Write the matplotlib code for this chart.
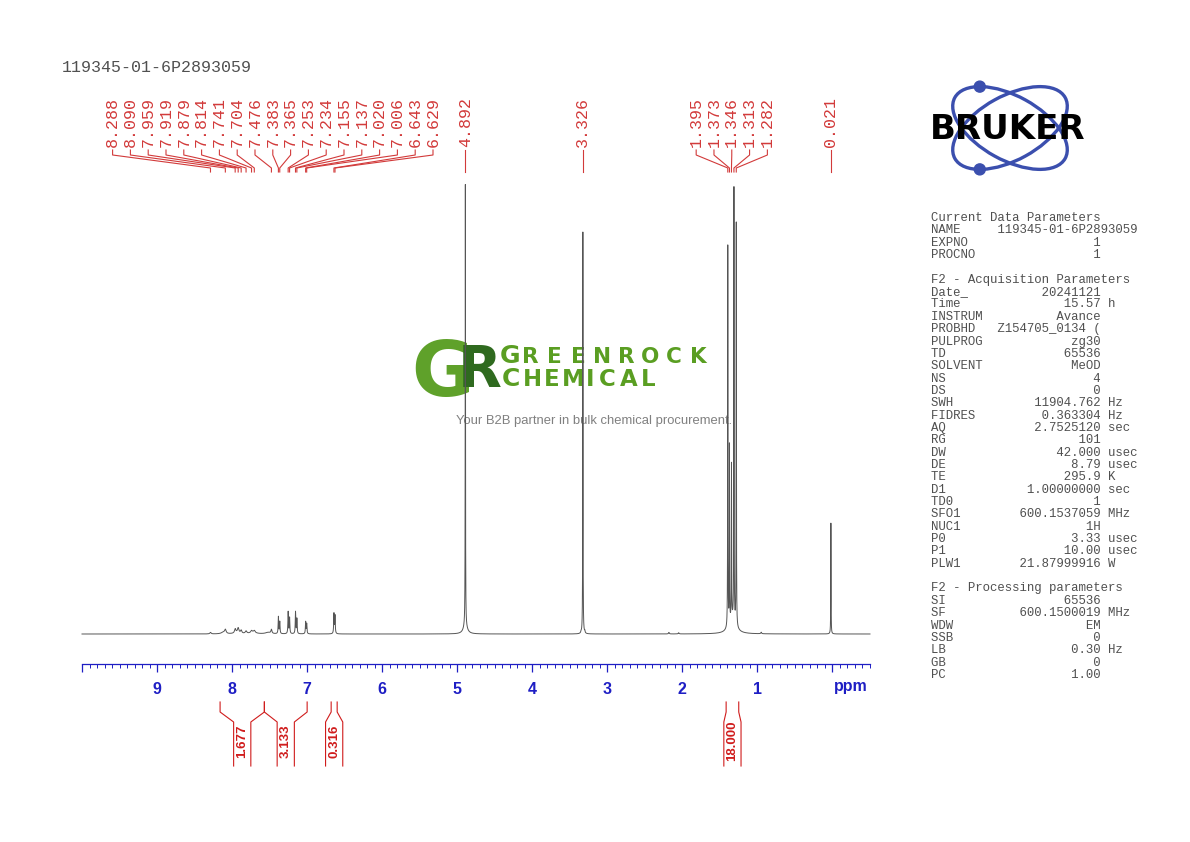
import numpy as np
import matplotlib.pyplot as plt
from matplotlib.patches import Ellipse, Circle
from matplotlib.transforms import blended_transform_factory

W, H = 1190, 842

# peaks: shift (ppm), height (px above baseline), half width (ppm)
shift = [8.288, 8.090, 7.959, 7.919, 7.879, 7.814, 7.741, 7.704, 7.476,
         7.383, 7.365, 7.253, 7.234, 7.155, 7.137, 7.020, 7.006, 6.643, 6.629,
         8.12, 7.93, 7.72, 7.52,
         4.892, 4.892, 3.326, 3.30, 3.35, 2.18, 2.05,
         1.395, 1.373, 1.346, 1.313, 1.282, 1.335, 0.95, 0.021]
height = [1.5, 4, 4, 4.5, 3, 2.5, 2, 2, 4,
          17, 12, 22, 16, 22, 15, 12, 10, 20, 18,
          1.5, 1.5, 1.5, 1.5,
          443, 8, 402, 2, 1.5, 1.5, 1.2,
          381, 177, 154, 434, 404, 15, 1.5, 111]
hwhm = [0.01, 0.012, 0.01, 0.01, 0.01, 0.012, 0.012, 0.012, 0.008,
        0.004, 0.004, 0.004, 0.004, 0.004, 0.004, 0.004, 0.004, 0.004, 0.004,
        0.03, 0.04, 0.05, 0.04,
        0.002, 0.03, 0.002, 0.004, 0.004, 0.006, 0.006,
        0.002, 0.002, 0.002, 0.002, 0.002, 0.05, 0.006, 0.002]

# peak picking labels, grouped the way they are drawn
label_groups = [
    [8.288, 8.090, 7.959, 7.919, 7.879, 7.814, 7.741, 7.704, 7.476, 7.383,
     7.365, 7.253, 7.234, 7.155, 7.137, 7.020, 7.006, 6.643, 6.629],
    [4.892],
    [3.326],
    [1.395, 1.373, 1.346, 1.313, 1.282],
    [0.021],
]

# integrals
int_from = [8.16, 7.57, 6.68, 1.417]
int_to = [7.57, 7.00, 6.60, 1.249]
int_value = ["1.677", "3.133", "0.316", "18.000"]

major_ticks = list(range(0, 11))
major_labels = ["", "1", "2", "3", "4", "5", "6", "7", "8", "9", ""]

title = "119345-01-6P2893059"

param_rows = [
    ("Current Data Parameters", None, None),
    ("NAME", "119345-01-6P2893059", ""),
    ("EXPNO", "1", ""),
    ("PROCNO", "1", ""),
    None,
    ("F2 - Acquisition Parameters", None, None),
    ("Date_", "20241121", ""),
    ("Time", "15.57", "h"),
    ("INSTRUM", "Avance", ""),
    ("PROBHD", "Z154705_0134 (", ""),
    ("PULPROG", "zg30", ""),
    ("TD", "65536", ""),
    ("SOLVENT", "MeOD", ""),
    ("NS", "4", ""),
    ("DS", "0", ""),
    ("SWH", "11904.762", "Hz"),
    ("FIDRES", "0.363304", "Hz"),
    ("AQ", "2.7525120", "sec"),
    ("RG", "101", ""),
    ("DW", "42.000", "usec"),
    ("DE", "8.79", "usec"),
    ("TE", "295.9", "K"),
    ("D1", "1.00000000", "sec"),
    ("TD0", "1", ""),
    ("SFO1", "600.1537059", "MHz"),
    ("NUC1", "1H", ""),
    ("P0", "3.33", "usec"),
    ("P1", "10.00", "usec"),
    ("PLW1", "21.87999916", "W"),
    None,
    ("F2 - Processing parameters", None, None),
    ("SI", "65536", ""),
    ("SF", "600.1500019", "MHz"),
    ("WDW", "EM", ""),
    ("SSB", "0", ""),
    ("LB", "0.30", "Hz"),
    ("GB", "0", ""),
    ("PC", "1.00", ""),
]

RED = "#d23a3a"
RED2 = "#d01c1c"
BLUE = "#1e1ec4"
GREY = "#505050"
GREEN = "#5a9e22"

fig = plt.figure(figsize=(W / 100, H / 100), dpi=100, facecolor="white")

# overlay in pixel coords (y down) for text, labels and watermark
ov = fig.add_axes([0, 0, 1, 1], zorder=0)
ov.set_autoscale_on(False)
ov.set_xlim(0, W)
ov.set_ylim(H, 0)
ov.axis("off")

# spectrum axes
ax = fig.add_axes([82 / W, (H - 664) / H, (870 - 82) / W, (664 - 183) / H], zorder=1)
ax.patch.set_alpha(0)
ax.set_xlim(10.0, -0.5)
ax.set_ylim(-30, 451)

ppm = np.linspace(10.0, -0.5, 40000)
y = np.zeros_like(ppm)
for c, h, w in zip(shift, height, hwhm):
    y += h * w ** 2 / ((ppm - c) ** 2 + w ** 2)
ax.plot(ppm, y, color="#555555", lw=0.7, clip_on=False)

for s in ["left", "right", "top"]:
    ax.spines[s].set_visible(False)
ax.spines["bottom"].set_color(BLUE)
ax.spines["bottom"].set_linewidth(0.9)
ax.set_yticks([])
ax.set_xticks(major_ticks)
ax.set_xticklabels(major_labels)
ax.set_xticks(np.arange(-0.5, 10.01, 0.1), minor=True)
ax.tick_params(axis="x", which="major", direction="out", length=6, width=0.9,
               color=BLUE, pad=7, labelsize=11.5, labelcolor=BLUE)
ax.tick_params(axis="x", which="minor", direction="out", length=3, width=0.7, color=BLUE)
for t in ax.get_xticklabels():
    t.set_fontweight("bold")
    t.set_family("Liberation Sans")

bt = blended_transform_factory(ax.transData, ov.transData)

ov.text(-0.25, 691, "ppm", transform=bt, ha="center", va="baseline", color=BLUE,
        fontsize=11.5, fontweight="bold", family="Liberation Sans")

# peak labels
step = 17.8 * 10.5 / 788
for g in label_groups:
    n = len(g)
    xs = np.mean(g) + step * ((n - 1) / 2 - np.arange(n))
    for p, xl in zip(g, xs):
        ov.plot([xl, xl, p, p], [150, 155, 168, 172], transform=bt, color=RED,
                lw=0.8, clip_on=False)
        ov.text(xl, 147, f"{p:.3f}", transform=bt, rotation=90, ha="center",
                va="bottom", family="Liberation Mono", fontsize=12, color=RED)

# integrals
half = 8.6 * 10.5 / 788
for a, b, v in zip(int_from, int_to, int_value):
    mid = (a + b) / 2
    ov.plot([a, a, mid + half, mid + half], [702, 712, 722, 766], transform=bt,
            color=RED2, lw=0.8, clip_on=False)
    ov.plot([b, b, mid - half, mid - half], [702, 712, 722, 766], transform=bt,
            color=RED2, lw=0.8, clip_on=False)
    ov.text(mid, 741, v, transform=bt, rotation=90, ha="center", va="center",
            color=RED2, fontsize=9.5, fontweight="bold", family="Liberation Sans")

# title and parameter block
ov.text(62, 68, title, family="Liberation Mono", fontsize=12, color=GREY, va="center")
for i, row in enumerate(param_rows):
    if row is None:
        continue
    name, val, unit = row
    if val is None:
        line = name
    elif len(val) > 14:
        line = f"{name:<9}{val}"
    else:
        line = f"{name:<8}{val:>15} {unit}".rstrip()
    ov.text(931, 218 + i * 12.35, line, family="Liberation Mono", fontsize=8.9,
            color=GREY, va="center")

# watermark
ov.text(411, 396, "G", fontsize=55, fontweight="bold", family="DejaVu Sans",
        color="#5fa12a", va="baseline", ha="left")
ov.text(458, 387, "R", fontsize=41, fontweight="bold", family="DejaVu Sans",
        color="#2f6a1f", va="baseline", ha="left")
gr_x = [510, 530, 554, 578, 602, 626, 650, 674, 698]
for i, (ch, xx) in enumerate(zip("GREENROCK", gr_x)):
    ov.text(xx, 363, ch, fontsize=18 if i == 0 else 15.5, fontweight="bold",
            family="DejaVu Sans", color=GREEN, va="baseline", ha="center")
ch_x = [511, 532, 551.5, 573.5, 590.5, 607.5, 629, 648.5]
for i, (ch, xx) in enumerate(zip("CHEMICAL", ch_x)):
    ov.text(xx, 386, ch, fontsize=18 if i == 0 else 16.5, fontweight="bold",
            family="DejaVu Sans", color=GREEN, va="baseline", ha="center")
ov.text(456, 421, "Your B2B partner in bulk chemical procurement.", fontsize=9.4,
        family="Liberation Sans", color="#808080", va="center", ha="left")

# Bruker logo
lg = fig.add_axes([920 / W, (H - 178) / H, 180 / W, 100 / H], zorder=2)
lg.set_xlim(-90, 90)
lg.set_ylim(-50, 50)
lg.axis("off")
orbit_a, orbit_b, tilt = 126, 64, 28.9
for ang in [180 - tilt, tilt]:
    lg.add_patch(Ellipse((0, 0), orbit_a, orbit_b, angle=ang, fill=False,
                         lw=2.4, color="#3b4fae"))
t = np.linspace(0, 2 * np.pi, 721)
for ang, pick in [(180 - tilt, np.argmax), (tilt, np.argmin)]:
    r = np.radians(ang)
    ex = orbit_a / 2 * np.cos(t) * np.cos(r) - orbit_b / 2 * np.sin(t) * np.sin(r)
    ey = orbit_a / 2 * np.cos(t) * np.sin(r) + orbit_b / 2 * np.sin(t) * np.cos(r)
    k = pick(ey)
    lg.add_patch(Circle((ex[k], ey[k]), 5.5, color="#3b4fae"))
lg.text(-2, -1.5, "BRUKER", ha="center", va="center", fontsize=24.5, fontweight="bold",
        family="DejaVu Sans", color="black")

fig.savefig("out.png", dpi=100)
